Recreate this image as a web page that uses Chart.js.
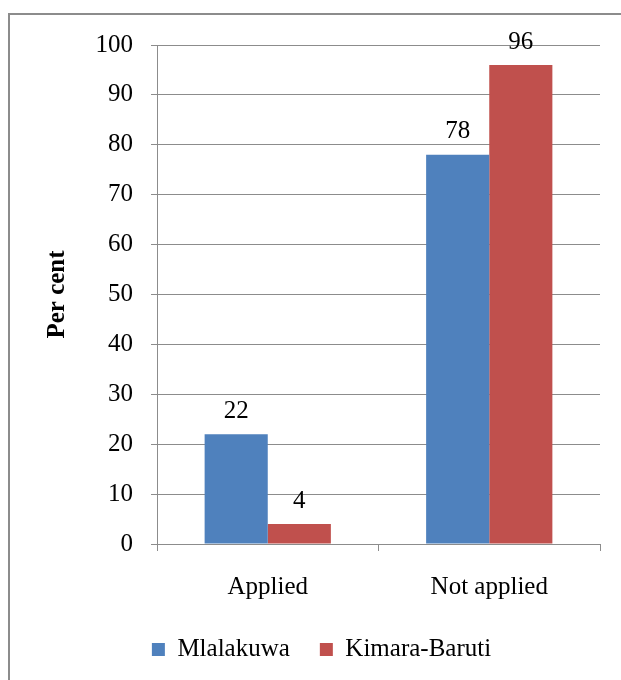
<!DOCTYPE html>
<html>
<head>
<meta charset="utf-8">
<script src="https://cdn.jsdelivr.net/npm/chart.js@4"></script>
<style>
  html, body { margin: 0; padding: 0; background: #fff; }
  #wrap { position: relative; width: 621px; height: 680px; overflow: hidden; }
  #frame { position: absolute; left: 8px; top: 13px; width: 700px; height: 700px;
           border-left: 2px solid #8c8c8c; border-top: 2px solid #8c8c8c; }
  canvas { position: absolute; left: 0; top: 0; }
</style>
</head>
<body>
<div id="wrap">
  <div id="frame"></div>
  <canvas id="chart" width="621" height="680"></canvas>
</div>
<script>
const categories = ["Applied", "Not applied"];
const mlalakuwa = [22, 78];
const kimaraBaruti = [4, 96];
const yTicks = [0, 10, 20, 30, 40, 50, 60, 70, 80, 90, 100];

const serif = "'Liberation Serif', 'Times New Roman', serif";

// draws the value above each bar
const valueLabels = {
  id: "valueLabels",
  afterDatasetsDraw(chart) {
    const ctx = chart.ctx;
    ctx.save();
    ctx.fillStyle = "#000";
    ctx.font = "25px " + serif;
    ctx.textAlign = "center";
    ctx.textBaseline = "middle";
    chart.data.datasets.forEach((ds, i) => {
      chart.getDatasetMeta(i).data.forEach((bar, j) => {
        ctx.fillText(ds.data[j], bar.x, bar.y - 23);
      });
    });
    ctx.restore();
  }
};

chart = new Chart(document.getElementById("chart"), {
  type: "bar",
  data: {
    labels: categories,
    datasets: [
      { label: "Mlalakuwa", data: mlalakuwa, backgroundColor: "#4F81BD" },
      { label: "Kimara-Baruti", data: kimaraBaruti, backgroundColor: "#C0504D" }
    ]
  },
  options: {
    responsive: false,
    animation: false,
    layout: { padding: { left: 43, right: 21, top: 45, bottom: 8 } },
    datasets: { bar: { barPercentage: 1, categoryPercentage: 0.57 } },
    plugins: {
      legend: {
        position: "bottom",
        labels: {
          boxWidth: 13, boxHeight: 13, padding: 30,
          color: "#000",
          font: { family: serif, size: 25 }
        }
      },
      tooltip: { enabled: false }
    },
    scales: {
      x: {
        grid: { drawOnChartArea: false, drawTicks: true, tickLength: 7, offset: true, color: "#8c8c8c" },
        border: { color: "#8c8c8c" },
        ticks: { color: "#000", font: { family: serif, size: 25 }, padding: 21 },
        afterFit(s) { s.height = 63; }
      },
      y: {
        min: 0, max: 100,
        afterBuildTicks(s) { s.ticks = yTicks.map(v => ({ value: v })); },
        grid: { color: "#8c8c8c", tickLength: 6 },
        border: { color: "#8c8c8c" },
        ticks: { color: "#000", font: { family: serif, size: 25 }, padding: 18 },
        title: {
          display: true, text: "Per cent", color: "#000",
          font: { family: serif, size: 25, weight: "bold" },
          padding: { top: 0, bottom: 0 }
        },
        afterFit(s) { s.width = 114; }
      }
    }
  },
  plugins: [valueLabels]
});
</script>
</body>
</html>
